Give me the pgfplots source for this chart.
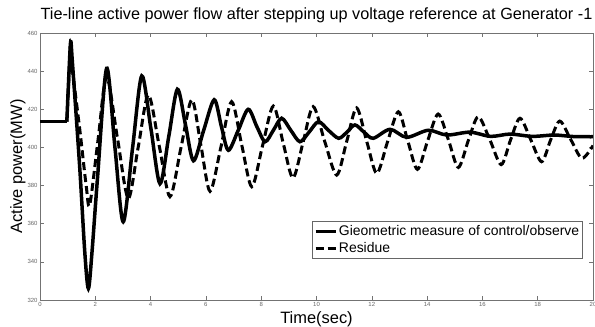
\documentclass[border=0pt]{standalone}
\usepackage{fontspec}
\setmainfont{Liberation Sans}
\usepackage{pgfplots}
\pgfplotsset{compat=1.18}
\begin{document}
\begin{tikzpicture}
\begin{axis}[name=ax, scale only axis, width=553bp, height=267bp,
  xmin=0, xmax=20, ymin=320, ymax=460,
  xtick={0,2,...,20}, ytick={320,340,...,460},
  tick align=inside, major tick length=4bp,
  axis line style={black!55, line width=0.6bp},
  tick style={black!55, line width=0.6bp},
  ticklabel style={font=\fontsize{6}{7}\selectfont, text=black!60},
  /pgf/number format/assume math mode=true,
  xticklabel style={yshift=1bp},
  yticklabel style={xshift=1bp},
  title={Tie-line active power flow after stepping up voltage reference at Generator -1},
  title style={font=\fontsize{16.3}{18}\selectfont, at={(axis description cs:0.5,1)}, anchor=base, yshift=8bp},
  xlabel={Time(sec)}, ylabel={Active power(MW)},
  label style={font=\fontsize{16.5}{18}\selectfont},
  xlabel style={at={(axis description cs:0.5,0)}, anchor=base, yshift=-23.5bp},
  ylabel style={at={(axis description cs:-0.0325,0.5)}, anchor=base},
  legend style={at={(axis description cs:0.982,0.154)}, anchor=south east,
    font=\fontsize{14}{15}\selectfont, draw=black!60, line width=0.6bp,
    inner xsep=2bp, inner ysep=3bp, row sep=2bp,
    nodes={inner sep=1.5bp}},
  legend cell align=left,
  legend image code/.code={\draw[#1] (0bp,0bp) -- (20bp,0bp);},
]
\addplot[black, line width=3.5bp, forget plot] coordinates {(0,413.5) (0.97,413.5)};
\addplot[black, line width=3.5bp, smooth, tension=0.5] coordinates {
(0.97,413.5) (1.05,440) (1.11,455.5) (1.17,445) (1.43,391) (1.62,345) (1.75,326)
(1.88,345) (2.08,384) (2.41,441.5) (2.71,400) (3.01,361) (3.35,400) (3.68,437.5)
(4.01,410) (4.34,381) (4.66,406) (4.97,430.5) (5.26,412) (5.55,393) (5.92,409)
(6.3,425) (6.56,411) (6.81,398.5) (7.17,409) (7.53,420) (7.84,411) (8.14,403)
(8.44,409) (8.74,415.3) (9.07,409) (9.4,403) (9.73,408) (10.07,413.5) (10.43,409)
(10.8,404.8) (11.1,408) (11.39,411.8) (11.72,408) (12.05,404.8) (12.66,409.5)
(13.26,405.3) (14.04,409) (14.71,406.5) (15.55,408) (16.3,405.8) (17.0,407)
(17.8,405.8) (18.6,406.5) (19.3,405.7) (20,405.6)};
\addlegendentry{Gieometric measure of control/observe}
\addplot[black, line width=3bp, dash pattern=on 8bp off 4bp, smooth, tension=0.5] coordinates {
(0.97,413.5) (1.05,438) (1.1,453) (1.17,441) (1.45,408) (1.67,380) (1.8,370)
(2.1,404) (2.41,437) (2.8,405) (3.19,373.3) (3.55,400) (3.92,427.5) (4.31,401)
(4.70,374.2) (5.1,400) (5.49,425) (5.82,401) (6.15,377) (6.54,400) (6.93,424)
(7.3,401) (7.66,379.4) (8.05,401) (8.44,421.7) (8.8,402) (9.15,384) (9.52,403)
(9.88,421.4) (10.3,403) (10.73,385.5) (11.09,403) (11.45,420.7) (11.82,403)
(12.18,386.4) (12.57,403) (12.96,418.7) (13.3,403.5) (13.65,388.5) (14.02,403.5)
(14.4,417.5) (14.77,404) (15.13,389.5) (15.5,404) (15.85,416.1) (16.27,404)
(16.68,391) (17.02,404) (17.36,415.3) (17.75,404) (18.14,392.5) (18.47,404)
(18.8,413.8) (19.2,404) (19.6,394.3) (20,401)};
\addlegendentry{Residue}
\end{axis}
\pgfresetboundingbox
\path ([xshift=-40bp,yshift=-27bp]ax.south west) rectangle ([xshift=2bp,yshift=33bp]ax.north east);
\end{tikzpicture}
\end{document}
